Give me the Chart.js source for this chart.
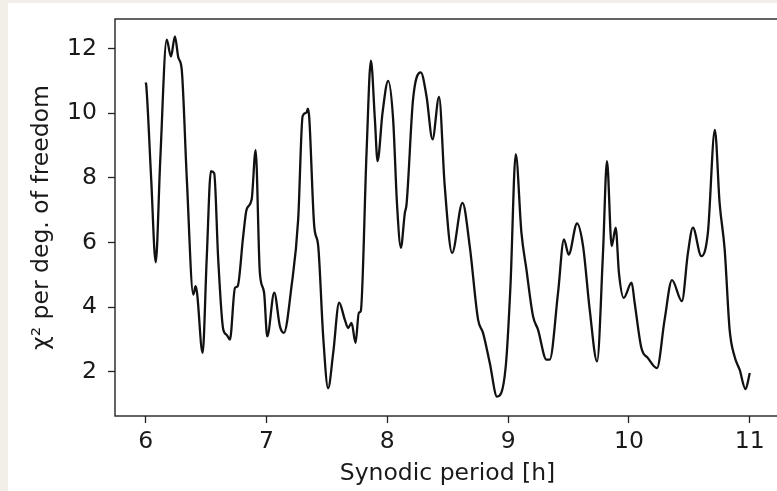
<!DOCTYPE html>
<html>
<head>
<meta charset="utf-8">
<script src="https://cdn.jsdelivr.net/npm/chart.js@4"></script>
<style>
  html, body { margin: 0; padding: 0; width: 777px; height: 491px; overflow: hidden; background: #f2efe9; }
  #panel { position: absolute; left: 8px; top: 3px; width: 800px; height: 500px; background: #ffffff; }
  #wrap { position: absolute; left: 0; top: 0; width: 800px; height: 491px; }
</style>
</head>
<body>
<div id="panel"></div>
<div id="wrap"><canvas id="c" width="800" height="491"></canvas></div>
<script>
// Synodic period [h]
const periods = [
  6.000, 6.005, 6.045, 6.083, 6.120, 6.174, 6.209, 6.242, 6.270, 6.298,
  6.340, 6.394, 6.413, 6.425, 6.471, 6.505, 6.540, 6.567, 6.600, 6.642,
  6.670, 6.697, 6.739, 6.761, 6.807, 6.835, 6.877, 6.910, 6.945, 6.980,
  7.006, 7.064, 7.111, 7.144, 7.207, 7.262, 7.299, 7.332, 7.342, 7.353,
  7.395, 7.428, 7.469, 7.510, 7.552, 7.601, 7.648, 7.676, 7.704, 7.737,
  7.764, 7.780, 7.828, 7.864, 7.897, 7.919, 7.960, 8.007, 8.048, 8.080,
  8.112, 8.145, 8.159, 8.213, 8.277, 8.324, 8.374, 8.428, 8.475, 8.536,
  8.622, 8.682, 8.751, 8.792, 8.848, 8.908, 8.980, 9.019, 9.063, 9.110,
  9.150, 9.206, 9.247, 9.317, 9.344, 9.413, 9.462, 9.501, 9.570, 9.620,
  9.675, 9.736, 9.785, 9.818, 9.857, 9.890, 9.917, 9.956, 10.022, 10.047,
  10.103, 10.157, 10.232, 10.295, 10.356, 10.438, 10.488, 10.529, 10.599, 10.653,
  10.711, 10.750, 10.792, 10.833, 10.874, 10.916, 10.965, 11.000
];
// Chi^2 per degree of freedom
const chi2 = [
  10.95, 10.85, 8.00, 5.39, 8.50, 12.27, 11.75, 12.37, 11.72, 11.36,
  8.00, 4.39, 4.65, 4.45, 2.59, 5.50, 8.21, 8.14, 5.50, 3.31,
  3.15, 3.00, 4.60, 4.65, 6.20, 7.02, 7.33, 8.86, 5.06, 4.45,
  3.10, 4.45, 3.41, 3.21, 4.65, 6.71, 9.91, 10.02, 10.14, 9.90,
  6.51, 5.89, 3.10, 1.50, 2.59, 4.14, 3.62, 3.36, 3.52, 2.90,
  3.83, 3.88, 8.78, 11.62, 9.81, 8.52, 10.00, 11.00, 9.81, 7.20,
  5.84, 6.92, 7.18, 10.43, 11.26, 10.53, 9.19, 10.50, 7.75, 5.68,
  7.23, 5.89, 3.62, 3.21, 2.28, 1.24, 2.17, 4.65, 8.73, 6.30,
  5.20, 3.72, 3.31, 2.38, 2.38, 4.45, 6.10, 5.63, 6.59, 5.89,
  3.93, 2.33, 5.68, 8.52, 5.89, 6.46, 5.06, 4.29, 4.76, 4.14,
  2.74, 2.43, 2.12, 3.62, 4.84, 4.19, 5.68, 6.46, 5.58, 6.30,
  9.48, 7.23, 5.79, 3.31, 2.48, 2.07, 1.47, 1.97
];
const xTicks = [6, 7, 8, 9, 10, 11];
const yTicks = [2, 4, 6, 8, 10, 12];
const xTitle = 'Synodic period [h]';
const yTitle = 'χ² per deg. of freedom';

const points = periods.map((p, i) => ({ x: p, y: chi2[i] }));

const frame = {
  id: 'frame',
  afterDatasetsDraw(chart) {
    const a = chart.chartArea, ctx = chart.ctx;
    ctx.save();
    ctx.strokeStyle = '#222';
    ctx.lineWidth = 1.4;
    ctx.strokeRect(a.left, a.top, a.right - a.left, a.bottom - a.top);
    ctx.restore();
  }
};

const font = { family: 'DejaVu Sans', size: 23.5 };

new Chart(document.getElementById('c'), {
  type: 'line',
  data: {
    datasets: [{
      data: points,
      borderColor: '#111',
      borderWidth: 2.3,
      pointRadius: 0,
      fill: false,
      cubicInterpolationMode: 'monotone'
    }]
  },
  options: {
    responsive: false,
    animation: false,
    layout: { padding: { left: 18, top: 19, right: 20, bottom: 0 } },
    plugins: { legend: { display: false }, tooltip: { enabled: false } },
    scales: {
      x: {
        type: 'linear',
        min: 5.746,
        max: 11.25,
        afterBuildTicks: s => { s.ticks = xTicks.map(v => ({ value: v })); },
        afterFit: s => { s.height = 75; s.paddingLeft = 0; s.paddingRight = 0; },
        grid: { display: true, drawOnChartArea: false, tickLength: 7, tickColor: '#222', tickWidth: 1.3 },
        border: { display: false },
        ticks: { color: '#1a1a1a', font: font, padding: 5, maxRotation: 0, callback: v => String(v) },
        title: { display: true, text: xTitle, color: '#1a1a1a', font: font, padding: { top: 0, bottom: 3 } }
      },
      y: {
        type: 'linear',
        min: 0.64,
        max: 12.91,
        afterBuildTicks: s => { s.ticks = yTicks.map(v => ({ value: v })); },
        afterFit: s => { s.width = 97; s.paddingTop = 0; s.paddingBottom = 0; },
        grid: { display: true, drawOnChartArea: false, tickLength: 7, tickColor: '#222', tickWidth: 1.3 },
        border: { display: false },
        ticks: { color: '#1a1a1a', font: font, padding: 11, callback: v => String(v) },
        title: { display: true, text: yTitle, color: '#1a1a1a', font: font, padding: { top: 10, bottom: 4 } }
      }
    }
  },
  plugins: [frame]
});
</script>
</body>
</html>
